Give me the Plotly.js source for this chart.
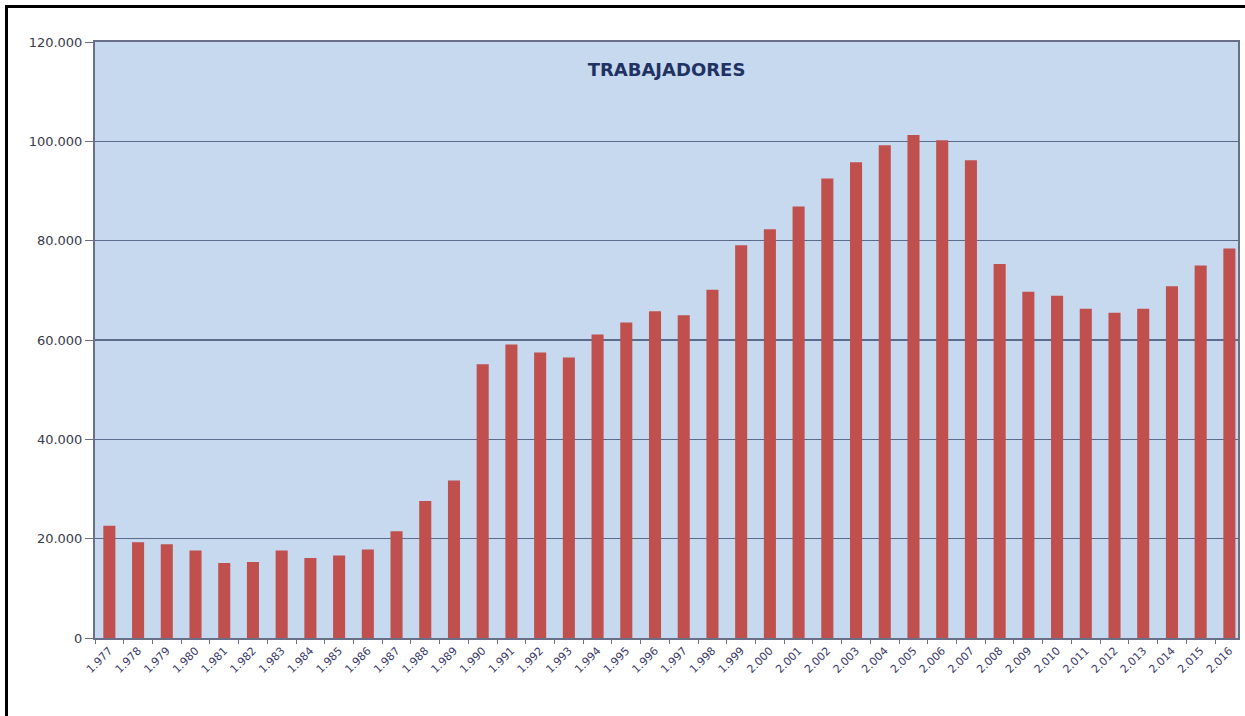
<!DOCTYPE html>
<html>
<head>
<meta charset="utf-8">
<script src="https://cdn.plot.ly/plotly-3.0.1.min.js"></script>
<style>
  html, body { margin: 0; padding: 0; background: #ffffff; }
  #wrap { position: relative; width: 1245px; height: 716px; }
  #chart { width: 1245px; height: 716px; }
  #frame { position: absolute; left: 5px; top: 5px; right: -10px; bottom: -10px;
           border-left: 3px solid #000; border-top: 3px solid #000; pointer-events: none; }
</style>
</head>
<body>
<div id="wrap">
  <div id="chart"></div>
  <div id="frame"></div>
</div>
<script>
const years = ["1977","1978","1979","1980","1981","1982","1983","1984","1985","1986",
               "1987","1988","1989","1990","1991","1992","1993","1994","1995","1996",
               "1997","1998","1999","2000","2001","2002","2003","2004","2005","2006",
               "2007","2008","2009","2010","2011","2012","2013","2014","2015","2016"];
const yearLabels = ["1.977","1.978","1.979","1.980","1.981","1.982","1.983","1.984","1.985","1.986",
                    "1.987","1.988","1.989","1.990","1.991","1.992","1.993","1.994","1.995","1.996",
                    "1.997","1.998","1.999","2.000","2.001","2.002","2.003","2.004","2.005","2.006",
                    "2.007","2.008","2.009","2.010","2.011","2.012","2.013","2.014","2.015","2.016"];
const trabajadores = [22600,19300,18900,17600,15100,15300,17600,16100,16600,17800,
                      21500,27600,31700,55100,59100,57500,56500,61100,63500,65800,
                      65000,70100,79100,82300,86900,92500,95800,99200,101300,100200,
                      96200,75300,69700,68900,66300,65500,66300,70800,75000,78400];
const yTickVals = [0,20000,40000,60000,80000,100000,120000];
const yTickLabels = ["0","20.000","40.000","60.000","80.000","100.000","120.000"];
const chartTitle = "TRABAJADORES";

const trace = {
  type: "bar",
  x: years,
  y: trabajadores,
  marker: { color: "#c0504d", line: { width: 0 } },
  hoverinfo: "x+y"
};

const layout = {
  width: 1245,
  height: 716,
  margin: { l: 95, r: 7, t: 42, b: 78 },
  paper_bgcolor: "rgba(0,0,0,0)",
  plot_bgcolor: "#c6d9ee",
  bargap: 0.58,
  showlegend: false,
  title: {
    text: "<b>" + chartTitle + "</b>",
    font: { family: "DejaVu Sans, sans-serif", size: 18, color: "#1f3263" },
    xref: "paper", x: 0.5, xanchor: "center",
    yref: "paper", y: 0.953, yanchor: "middle"
  },
  xaxis: {
    type: "category",
    tickmode: "array",
    tickvals: years,
    ticktext: yearLabels,
    tickangle: -45,
    tickson: "boundaries",
    ticks: "outside",
    ticklen: 4,
    tickcolor: "#6a6f88",
    tickfont: { family: "DejaVu Sans, sans-serif", size: 11, color: "#3a3a6a" },
    showline: true,
    linecolor: "#6a6f88",
    linewidth: 2,
    mirror: true,
    showgrid: false,
    range: [-0.5, 39.3],
    fixedrange: true
  },
  yaxis: {
    range: [0, 120000],
    tickmode: "array",
    tickvals: yTickVals,
    ticktext: yTickLabels,
    ticks: "outside",
    ticklen: 8,
    tickcolor: "#6a6f88",
    tickfont: { family: "DejaVu Sans, sans-serif", size: 13, color: "#3a3a4a" },
    showline: true,
    linecolor: "#6a6f88",
    linewidth: 2,
    mirror: true,
    showgrid: true,
    gridcolor: "#5a6b8c",
    gridwidth: 1.6,
    zeroline: false,
    fixedrange: true
  }
};

Plotly.newPlot("chart", [trace], layout, { displayModeBar: false, staticPlot: true });
</script>
</body>
</html>
